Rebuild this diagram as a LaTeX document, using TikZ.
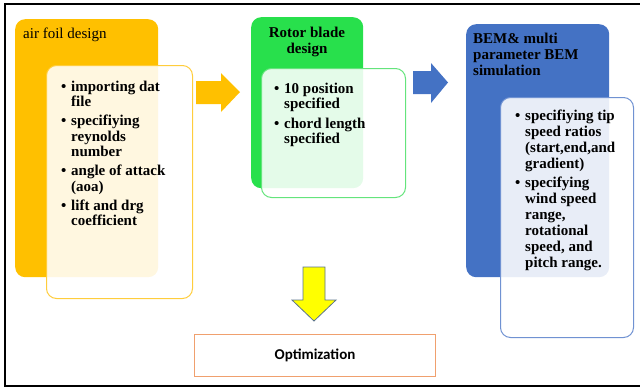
\documentclass[tikz,border=0pt]{standalone}
\usepackage{fontspec}
\setmainfont{Liberation Serif}
\newfontfamily\calib{Carlito}
\definecolor{orng}{RGB}{255,192,0}
\definecolor{orngline}{RGB}{255,205,60}
\definecolor{grn}{RGB}{40,224,76}
\definecolor{grnline}{RGB}{100,228,124}
\definecolor{blu}{RGB}{68,114,196}
\definecolor{bluline}{RGB}{112,146,210}
\definecolor{optline}{RGB}{240,160,110}
\definecolor{yarrow}{RGB}{255,255,0}
\definecolor{yarrowline}{RGB}{90,115,140}
\newcommand\bitem[1]{\makebox[10pt][l]{\textbullet}#1}
\newcommand\bcont[1]{\hspace*{10pt}#1}
\begin{document}
\begin{tikzpicture}[x=1pt,y=-1pt,
  backbox/.style={rounded corners=10pt, inner sep=0pt, anchor=north west},
  frontbox/.style={rounded corners=10pt, inner sep=0pt, anchor=north west, line width=1pt, fill=white, fill opacity=0.88},
  bodytext/.style={inner sep=0pt, anchor=north west, align=left, font=\fontsize{15}{15.5}\selectfont\bfseries},
  titletext/.style={inner sep=0pt, font=\fontsize{15}{16}\selectfont}
]
\useasboundingbox (0,0) rectangle (640,389);
% frame
\draw[line width=2pt] (645,4) -- (5,4) -- (5,386) -- (645,386);

% airfoil
\node[backbox, fill=orng, minimum width=143pt, minimum height=258pt] (ob) at (15,19) {};
\node[frontbox, draw=orngline, minimum width=146pt, minimum height=233pt] (of) at (46,65) {};
\node[titletext, anchor=base west] (ot) at (23,38) {air foil design};
\node[bodytext] (obul) at (61,80.7) {\bitem{importing dat}\\ \bcont{file}\\[3.5pt]
\bitem{specifiying}\\ \bcont{reynolds}\\ \bcont{number}\\[3.5pt]
\bitem{angle of attack}\\ \bcont{(aoa)}\\[3.5pt]
\bitem{lift and drg}\\ \bcont{coefficient}};

% rotor
\node[backbox, fill=grn, minimum width=112pt, minimum height=171pt] (gb) at (251,17) {};
\node[frontbox, draw=grnline, minimum width=144pt, minimum height=129pt] (gf) at (261,68) {};
\node[titletext, anchor=north, align=center, font=\fontsize{15}{16}\selectfont\bfseries] (gt) at (307,26.7) {Rotor blade\\design};
\node[bodytext, font=\fontsize{15}{15}\selectfont\bfseries] (gbul) at (274,82.7) {\bitem{10 position}\\ \bcont{specified}\\[5pt]
\bitem{chord length}\\ \bcont{specified}};

% BEM
\node[backbox, fill=blu, minimum width=143pt, minimum height=253pt] (bb) at (466,24) {};
\node[frontbox, draw=bluline, minimum width=133pt, minimum height=240pt] (bf) at (500,97) {};
\node[titletext, anchor=north west, align=left, font=\fontsize{15}{16}\selectfont\bfseries] (bt) at (473,32.7) {BEM\& multi\\parameter BEM\\simulation};
\node[bodytext, font=\fontsize{15}{16}\selectfont\bfseries] (bbul) at (515,109.7) {\bitem{specifiying tip}\\ \bcont{speed ratios}\\ \bcont{(start,end,and}\\ \bcont{gradient)}\\[3pt]
\bitem{specifying}\\ \bcont{wind speed}\\ \bcont{range,}\\ \bcont{rotational}\\ \bcont{speed, and}\\ \bcont{pitch range.}};

% arrows
\fill[orng] (196,81) -- (221,81) -- (221,73) -- (240,92) -- (221,112) -- (221,104) -- (196,104) -- cycle;
\fill[blu] (413,71) -- (431,71) -- (431,63) -- (448,82.5) -- (431,103) -- (431,94) -- (413,94) -- cycle;
\draw[fill=yarrow, draw=yarrowline, line width=0.8pt] (303,267) -- (325,267) -- (325,300) -- (336,300) -- (314,321) -- (292,300) -- (303,300) -- cycle;

% optimization
\node[draw=optline, line width=1pt, minimum width=241pt, minimum height=42pt, anchor=north west, inner sep=0pt] (opt) at (194,334) {};
\node[font=\calib\fontsize{15}{18}\selectfont\bfseries, inner sep=0pt] (optt) at (opt.center) {Optimization};
\end{tikzpicture}
\end{document}
